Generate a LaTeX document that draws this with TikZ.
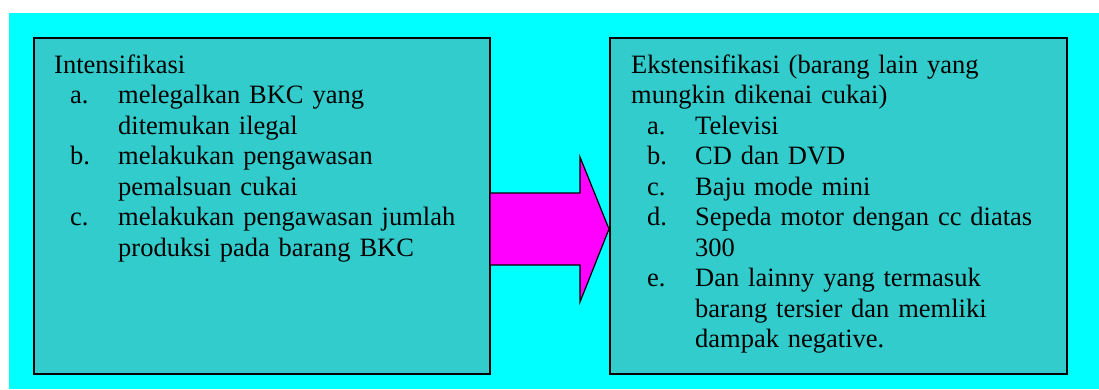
\documentclass[tikz,border=0pt]{standalone}
\usepackage{fontspec}
\setmainfont{Liberation Serif}
\definecolor{bgcyan}{HTML}{00FFFF}
\definecolor{boxteal}{HTML}{33CCCC}
\definecolor{arrowmag}{HTML}{FF00FF}
\newcommand{\lbl}[1]{\hspace*{16pt}\makebox[48pt][l]{#1}}
\newcommand{\cont}{\hspace*{64pt}}
\begin{document}
\begin{tikzpicture}[x=1pt,y=-1pt,
  panel/.style={draw=black, line width=1.5pt, fill=boxteal, rectangle, inner sep=0pt, anchor=north west},
  listtext/.style={anchor=base west, inner sep=0pt, text width=430pt, align=left,
    font=\fontsize{26.5pt}{30.5pt}\selectfont, text=black},
  bigarrow/.style={draw=black, line width=1.2pt, fill=arrowmag, line join=miter}]
\useasboundingbox (0,0) rectangle (1099,389);
\fill[white] (0,0) rectangle (1099,389);
\fill[bgcyan] (9,13) rectangle (1099,389);
\node[panel, minimum width=456pt, minimum height=336pt] (lbox) at (33,37) {};
\node[panel, minimum width=457pt, minimum height=336pt] (rbox) at (609,37) {};
\draw[bigarrow] (lbox.east |- 0,193) -- (580,193) -- (580,157) -- (rbox.west |- 0,229)
  -- (580,302) -- (580,265) -- (lbox.east |- 0,265);
\node[listtext] (ltext) at (54,73) {Intensifikasi\\
\lbl{a.}melegalkan BKC yang\\
\cont ditemukan ilegal\\
\lbl{b.}melakukan pengawasan\\
\cont pemalsuan cukai\\
\lbl{c.}melakukan pengawasan jumlah\\
\cont produksi pada barang BKC};
\node[listtext] (rtext) at (631,73) {Ekstensifikasi (barang lain yang\\
mungkin dikenai cukai)\\
\lbl{a.}Televisi\\
\lbl{b.}CD dan DVD\\
\lbl{c.}Baju mode mini\\
\lbl{d.}Sepeda motor dengan cc diatas\\
\cont 300\\
\lbl{e.}Dan lainny yang termasuk\\
\cont barang tersier dan memliki\\
\cont dampak negative.};
\end{tikzpicture}
\end{document}
